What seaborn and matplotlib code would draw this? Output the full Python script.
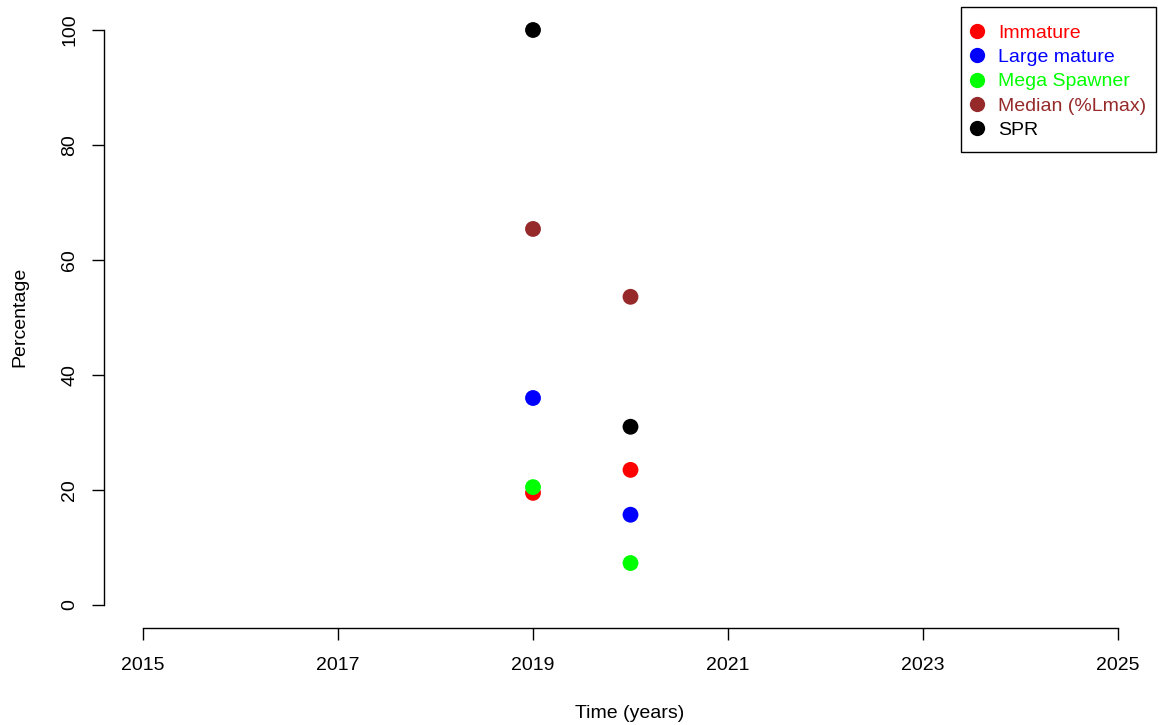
import pandas as pd
import seaborn as sns
import matplotlib.pyplot as plt
from matplotlib.patches import Rectangle

# data
years = [2019, 2020]
immature = [19.5, 23.5]
large_mature = [36.0, 15.7]
mega_spawner = [20.5, 7.3]
median_lmax = [65.4, 53.6]
spr = [100.0, 31.0]

series_names = ["Immature", "Large mature", "Mega Spawner", "Median (%Lmax)", "SPR"]
series_colors = ["#FF0000", "#0000FF", "#00FF00", "#962A2A", "#000000"]
x_ticks = [2015, 2017, 2019, 2021, 2023, 2025]
y_ticks = [0, 20, 40, 60, 80, 100]

rows = []
for name, vals in zip(series_names, [immature, large_mature, mega_spawner, median_lmax, spr]):
    for yr, v in zip(years, vals):
        rows.append({"year": yr, "value": v, "series": name})
df = pd.DataFrame(rows)

sns.set_style("white")
plt.rcParams['font.family'] = ['Liberation Sans', 'DejaVu Sans']
plt.rcParams['text.color'] = 'black'

W, H = 1158, 725
fig = plt.figure(figsize=(W / 100, H / 100), dpi=100)
ax = fig.add_axes([104 / W, 1 - 628 / H, (1157 - 104) / W, (628 - 7) / H])

sns.scatterplot(data=df, x="year", y="value", hue="series", hue_order=series_names,
                palette=series_colors, s=130, edgecolor="none", ax=ax, legend=False)

ax.set_xlim(2014.6, 2025.4)
ax.set_ylim(-4, 104)
ax.set_xticks(x_ticks)
ax.set_yticks(y_ticks)
ax.set_yticklabels([str(t) for t in y_ticks], rotation=90, va="center")
ax.tick_params(axis="both", direction="out", length=8.6, width=1, labelsize=14,
               colors="black", bottom=True, left=True)
ax.tick_params(axis="x", pad=12)
ax.tick_params(axis="y", pad=10)

for side in ["top", "right"]:
    ax.spines[side].set_visible(False)
ax.spines["left"].set_bounds(0, 100)
ax.spines["bottom"].set_bounds(2015, 2025)
for side in ["left", "bottom"]:
    ax.spines[side].set_color("black")
    ax.spines[side].set_linewidth(1)

ax.set_xlabel("")
ax.set_ylabel("")
fig.text(630 / W, 1 - 713 / H, "Time (years)", ha="center", va="center", fontsize=14, color="black")
fig.text(20 / W, 1 - 317 / H, "Percentage", ha="center", va="center", rotation=90,
         fontsize=14, color="black")

# legend in R style: box drawn separately
fig.add_artist(Rectangle((961 / W, 1 - 152 / H), (1156 - 961) / W, (152 - 7) / H,
                         transform=fig.transFigure, fill=False, edgecolor="black", linewidth=1))
handles = [plt.Line2D([], [], marker="o", linestyle="", markersize=11,
                      markerfacecolor=c, markeredgecolor="none") for c in series_colors]
leg = ax.legend(handles, series_names, loc="upper left", bbox_to_anchor=(965.4 / W, 1 - 24 / H),
                bbox_transform=fig.transFigure, frameon=False, fontsize=14,
                handletextpad=0.48, labelspacing=0.35, borderpad=0, handlelength=1.2,
                borderaxespad=0)
for txt, c in zip(leg.get_texts(), series_colors):
    txt.set_color(c)

fig.savefig("out.png", dpi=100)
